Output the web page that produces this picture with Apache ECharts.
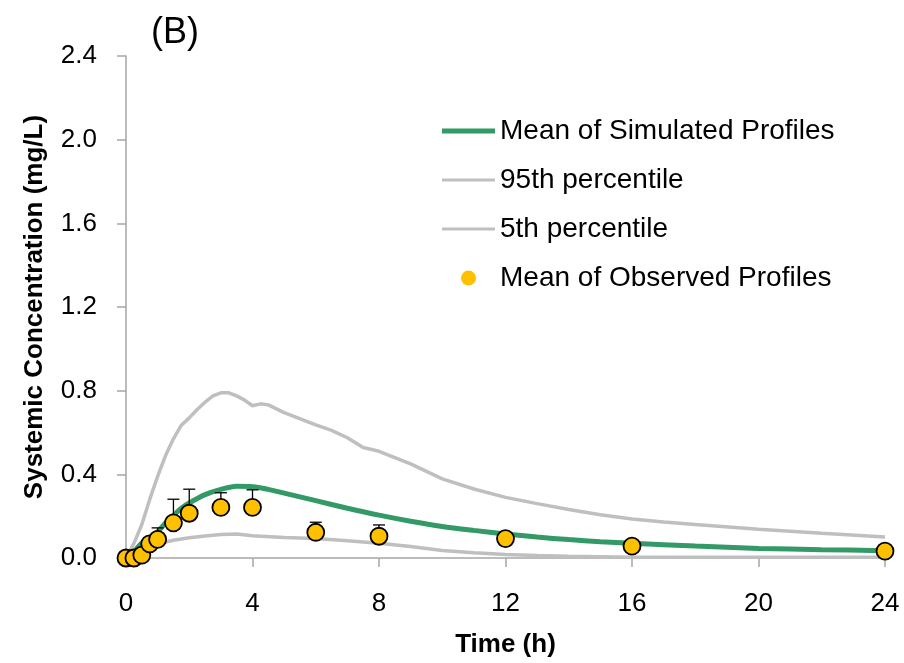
<!DOCTYPE html>
<html>
<head>
<meta charset="utf-8">
<title>Systemic Concentration (B)</title>
<script src="https://cdn.jsdelivr.net/npm/echarts@6/dist/echarts.min.js"></script>
<style>
  html, body { margin: 0; padding: 0; background: #fff; }
  #chart { width: 904px; height: 663px; }
</style>
</head>
<body>
<div id="chart"></div>
<script>
// simulated profiles (time in h, conc in mg/L)
var meanTime = [0, 0.25, 0.5, 0.75, 1, 1.25, 1.5, 1.75, 2, 2.5, 3, 3.5, 4, 4.5, 5, 6, 7, 8, 9, 10, 11, 12, 13, 14, 15, 16, 18, 20, 22, 24];
var meanConc = [0, 0.03, 0.072, 0.095, 0.125, 0.168, 0.204, 0.238, 0.263, 0.303, 0.328, 0.343, 0.341, 0.328, 0.31, 0.274, 0.238, 0.205, 0.176, 0.151, 0.132, 0.115, 0.1, 0.088, 0.078, 0.07, 0.057, 0.046, 0.04, 0.035];

var p95Time = [0, 0.25, 0.5, 0.75, 1, 1.25, 1.5, 1.75, 2, 2.25, 2.5, 2.75, 3, 3.25, 3.5, 3.75, 4, 4.25, 4.5, 5, 6, 6.5, 7, 7.5, 8, 8.5, 9, 10, 11, 12, 13, 14, 15, 16, 17, 18, 20, 22, 24];
var p95Conc = [0, 0.07, 0.16, 0.28, 0.39, 0.49, 0.57, 0.635, 0.67, 0.71, 0.745, 0.775, 0.79, 0.79, 0.775, 0.755, 0.728, 0.737, 0.732, 0.695, 0.636, 0.61, 0.575, 0.528, 0.51, 0.48, 0.45, 0.378, 0.33, 0.29, 0.26, 0.232, 0.207, 0.186, 0.172, 0.16, 0.137, 0.118, 0.1];

var p5Time = [0, 0.5, 0.75, 1, 1.5, 2, 2.5, 3, 3.5, 4, 5, 6, 7, 8, 9, 10, 11, 12, 13, 14, 16, 20, 24];
var p5Conc = [0, 0.04, 0.056, 0.068, 0.085, 0.097, 0.105, 0.112, 0.115, 0.106, 0.098, 0.093, 0.083, 0.07, 0.055, 0.036, 0.025, 0.017, 0.012, 0.008, 0.004, 0.003, 0.003];

// observed means with upper SD
var obsTime = [0, 0.25, 0.5, 0.75, 1, 1.5, 2, 3, 4, 6, 8, 12, 16, 24];
var obsConc = [0, 0, 0.014, 0.068, 0.089, 0.168, 0.214, 0.242, 0.242, 0.123, 0.104, 0.093, 0.057, 0.033];
var obsSD   = [0, 0, 0, 0, 0.055, 0.113, 0.115, 0.07, 0.084, 0.048, 0.054, 0, 0, 0];

var xTicks = [0, 4, 8, 12, 16, 20, 24];
var yTicks = [0, 0.4, 0.8, 1.2, 1.6, 2.0, 2.4];

function pairs(xs, ys) {
  var out = [];
  for (var i = 0; i < xs.length; i++) out.push([xs[i], ys[i]]);
  return out;
}

var errData = [];
for (var i = 0; i < obsTime.length; i++) {
  if (obsSD[i] > 0) errData.push([obsTime[i], obsConc[i], obsConc[i] + obsSD[i]]);
}

var font = 'Liberation Sans';
var myChart = echarts.init(document.getElementById('chart'));

var option = {
  backgroundColor: '#fff',
  animation: false,
  title: {
    text: '(B)',
    left: 146,
    top: 10,
    textStyle: { fontFamily: font, fontSize: 36, fontWeight: 'normal', color: '#000' }
  },
  grid: { left: 126, right: 19, top: 56, bottom: 101, containLabel: false },
  legend: {
    orient: 'vertical',
    left: 442,
    top: 116,
    padding: 0,
    itemWidth: 53,
    itemHeight: 15,
    itemGap: 19,
    textStyle: { fontFamily: font, fontSize: 28, lineHeight: 30, color: '#000' },
    data: [
      { name: 'Mean of Simulated Profiles', icon: 'path://M0,0H53V5H0Z' },
      { name: '95th percentile', icon: 'path://M0,0H53V3H0Z' },
      { name: '5th percentile', icon: 'path://M0,0H53V3H0Z' },
      { name: 'Mean of Observed Profiles', icon: 'circle', itemStyle: { borderWidth: 0 } }
    ]
  },
  xAxis: {
    type: 'value',
    min: 0, max: 24, interval: 4,
    name: 'Time (h)',
    nameLocation: 'middle',
    nameGap: 74,
    nameTextStyle: { fontFamily: font, fontSize: 26, fontWeight: 'bold', color: '#000' },
    axisLine: { lineStyle: { color: '#a6a6a6', width: 1.5 } },
    axisTick: { show: true, length: 9, lineStyle: { color: '#a6a6a6', width: 1.5 } },
    axisLabel: {
      margin: 33, fontFamily: font, fontSize: 26, color: '#000',
      formatter: function (v) { return xTicks.indexOf(v) >= 0 ? String(v) : ''; }
    },
    splitLine: { show: false }
  },
  yAxis: {
    type: 'value',
    min: 0, max: 2.4, interval: 0.4,
    name: 'Systemic Concentration (mg/L)',
    nameLocation: 'middle',
    nameGap: 78,
    nameTextStyle: { fontFamily: font, fontSize: 26, fontWeight: 'bold', color: '#000' },
    axisLine: { show: true, lineStyle: { color: '#a6a6a6', width: 1.5 } },
    axisTick: { show: true, length: 9, lineStyle: { color: '#a6a6a6', width: 1.5 } },
    axisLabel: {
      margin: 29, fontFamily: font, fontSize: 26, color: '#000',
      formatter: function (v) {
        for (var k = 0; k < yTicks.length; k++) {
          if (Math.abs(yTicks[k] - v) < 1e-6) return yTicks[k].toFixed(1);
        }
        return '';
      }
    },
    splitLine: { show: false }
  },
  series: [
    {
      name: '95th percentile',
      type: 'line',
      symbol: 'none',
      z: 2,
      lineStyle: { color: '#bfbfbf', width: 3.5 },
      itemStyle: { color: '#bfbfbf' },
      data: pairs(p95Time, p95Conc)
    },
    {
      name: '5th percentile',
      type: 'line',
      symbol: 'none',
      z: 2,
      lineStyle: { color: '#bfbfbf', width: 3.5 },
      itemStyle: { color: '#bfbfbf' },
      data: pairs(p5Time, p5Conc)
    },
    {
      name: 'Mean of Simulated Profiles',
      type: 'line',
      symbol: 'none',
      smooth: 0.3,
      z: 3,
      lineStyle: { color: '#339966', width: 5 },
      itemStyle: { color: '#339966' },
      data: pairs(meanTime, meanConc)
    },
    {
      name: 'errorbars',
      type: 'custom',
      z: 4,
      silent: true,
      renderItem: function (params, api) {
        var x = api.value(0);
        var lo = api.coord([x, api.value(1)]);
        var hi = api.coord([x, api.value(2)]);
        var half = 6;
        return {
          type: 'group',
          children: [
            { type: 'line', shape: { x1: lo[0], y1: lo[1], x2: hi[0], y2: hi[1] }, style: { stroke: '#000', lineWidth: 1.3 } },
            { type: 'line', shape: { x1: hi[0] - half, y1: hi[1], x2: hi[0] + half, y2: hi[1] }, style: { stroke: '#000', lineWidth: 1.3 } }
          ]
        };
      },
      encode: { x: 0, y: [1, 2] },
      data: errData
    },
    {
      name: 'Mean of Observed Profiles',
      type: 'scatter',
      symbol: 'circle',
      symbolSize: 17,
      z: 5,
      itemStyle: { color: '#ffc000', borderColor: '#000', borderWidth: 1.8, opacity: 1 },
      data: pairs(obsTime, obsConc)
    }
  ]
};

myChart.setOption(option);
</script>
</body>
</html>
